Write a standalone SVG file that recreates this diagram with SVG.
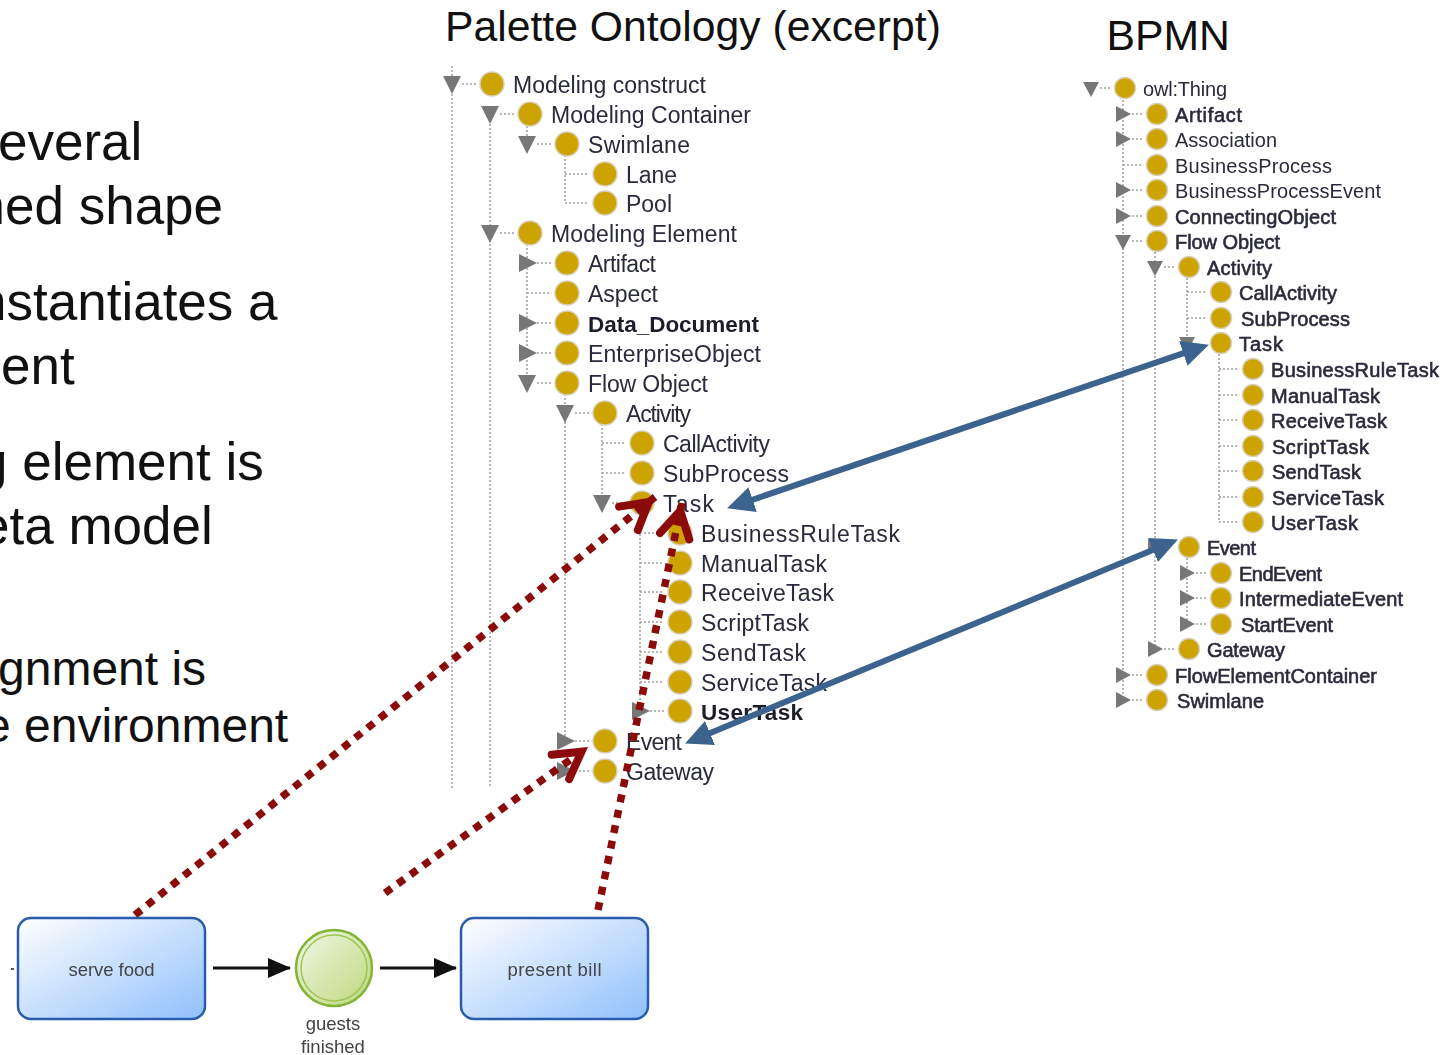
<svg xmlns="http://www.w3.org/2000/svg" width="1455" height="1055" viewBox="0 0 1455 1055">
<style>
text{font-family:"Liberation Sans",Arial,sans-serif}
.big{font-size:53px;fill:#111}
.big2{font-size:48px;fill:#111}
.title{font-size:42.700px;fill:#111}
.l{font-size:23px;fill:#2a2a3c}
.r{font-size:20px;fill:#2a2a3c}
.b{stroke:#2a2a3c;stroke-width:.6}
.db{font-weight:bold;font-size:22.500px;fill:#1c1c2a}
.c{fill:#cca300;stroke:#d8d0b8;stroke-width:1.500}
.tri{fill:#777}
.dot{fill:none;stroke:#a0a0a0;stroke-width:1.500;stroke-dasharray:2 2}
.task{stroke:#2a5cab;stroke-width:2.500;fill:url(#tg)}
.nl{font-size:18.500px;fill:#444;text-anchor:middle}
.red{fill:none;stroke:#8b0a0a;stroke-width:7.500;stroke-dasharray:8 7.700}
.blue{fill:none;stroke:#3c628e;stroke-width:6}
.blk{fill:none;stroke:#111;stroke-width:3}
.soft{filter:url(#soft)}
</style>
<defs>
<filter id="soft" x="-2%" y="-2%" width="104%" height="104%"><feGaussianBlur stdDeviation="0.450"/></filter>
<linearGradient id="tg" x1="0" y1="0" x2="1" y2="1"><stop offset="0" stop-color="#fff"/><stop offset="1" stop-color="#90c0fb"/></linearGradient>
<linearGradient id="eg" x1="0" y1="0" x2="1" y2="1"><stop offset="0" stop-color="#f2f7e6"/><stop offset="1" stop-color="#bcd87c"/></linearGradient>
<marker id="bh" markerUnits="userSpaceOnUse" markerWidth="28" markerHeight="28" refX="16" refY="13" orient="auto-start-reverse" viewBox="0 0 28 26"><path d="M0 0L27 13L0 26z" fill="#3c628e"/></marker>
<marker id="rh" markerUnits="userSpaceOnUse" markerWidth="46" markerHeight="44" refX="42" refY="20" orient="auto" viewBox="0 0 46 40"><path d="M8 5L34 20L8 35" fill="none" stroke="#8b0a0a" stroke-width="8" stroke-linecap="round"/></marker>
<marker id="kh" markerUnits="userSpaceOnUse" markerWidth="24" markerHeight="20" refX="22" refY="10" orient="auto" viewBox="0 0 24 20"><path d="M0 0L23 10L0 20z" fill="#111"/></marker>
</defs>
<rect width="1455" height="1055" fill="#fff"/>
<g id="side-text">
<text class="big" x="-2" y="160">everal</text>
<text class="big" x="-24.500" y="224">ned shape</text>
<text class="big" x="-23" y="320">nstantiates a</text>
<text class="big" x="1" y="384">ent</text>
<text class="big" x="-22" y="480">g element is</text>
<text class="big" x="-20" y="544">eta model</text>
<text class="big2" x="-2" y="685">gnment is</text>
<text class="big2" x="-16" y="742">e environment</text>
</g>
<g id="titles">
<text class="title" x="445" y="41">Palette Ontology (excerpt)</text>
<text class="title" x="1106.500" y="50">BPMN</text>
</g>
<g id="tree-lines" class="soft">
<path class="dot" d="M452 66V788M490 124V788M527 126V136M565 155V203H587M565 174H587M527 244V383M527 293H550M565 394V741M602 424V503M602 443H625M602 473H625M640 514V711M640 533H662M640 563H662M640 592H662M640 622H662M640 652H662M640 682H662"/>
<path class="dot" d="M462 84H478M500 114H516M537 144H553M500 233H516M537 263H553M537 323H553M537 353H553M537 383H553M575 413H591M612 503H628M650 711H666M575 741H591M575 771H591"/>
<path class="dot" d="M1123 100V700M1123 165H1143M1155 252V649M1187 278V340M1187 292H1207M1187 318H1207M1219 354V522M1219 369H1239M1219 395H1239M1219 420H1239M1219 446H1239M1219 471H1239M1219 497H1239M1219 522H1239M1187 558V624"/>
<path class="dot" d="M1100 88H1111M1132 114H1143M1132 139H1143M1132 190H1143M1132 216H1143M1132 241H1143M1164 267H1175M1196 573H1207M1196 598H1207M1196 624H1207M1164 649H1175M1132 675H1143M1132 700H1143"/>
</g>
<g id="palette-tree" class="soft">
<g id="p0"><path class="tri" d="M443 76h18l-9 18z"/><circle class="c" cx="492" cy="84" r="12"/><text class="l" x="513" y="93" textLength="193">Modeling construct</text></g>
<g id="p1"><path class="tri" d="M481 106h18l-9 18z"/><circle class="c" cx="530" cy="114" r="12"/><text class="l" x="551" y="122.500" textLength="200">Modeling Container</text></g>
<g id="p2"><path class="tri" d="M518 136h18l-9 18z"/><circle class="c" cx="567" cy="144" r="12"/><text class="l" x="588" y="152.500" textLength="102">Swimlane</text></g>
<g id="p3"><circle class="c" cx="605" cy="174" r="12"/><text class="l" x="626" y="182.500" textLength="51">Lane</text></g>
<g id="p4"><circle class="c" cx="605" cy="203" r="12"/><text class="l" x="626" y="212" textLength="46">Pool</text></g>
<g id="p5"><path class="tri" d="M481 225h18l-9 18z"/><circle class="c" cx="530" cy="233" r="12"/><text class="l" x="551" y="242" textLength="186">Modeling Element</text></g>
<g id="p6"><path class="tri" d="M519 254l18 9l-18 9z"/><circle class="c" cx="567" cy="263" r="12"/><text class="l" x="588" y="272" textLength="68">Artifact</text></g>
<g id="p7"><circle class="c" cx="567" cy="293" r="12"/><text class="l" x="588" y="302" textLength="70">Aspect</text></g>
<g id="p8"><path class="tri" d="M519 314l18 9l-18 9z"/><circle class="c" cx="567" cy="323" r="12"/><text class="db" x="588" y="332" textLength="171">Data_Document</text></g>
<g id="p9"><path class="tri" d="M519 344l18 9l-18 9z"/><circle class="c" cx="567" cy="353" r="12"/><text class="l" x="588" y="362" textLength="173">EnterpriseObject</text></g>
<g id="p10"><path class="tri" d="M518 375h18l-9 18z"/><circle class="c" cx="567" cy="383" r="12"/><text class="l" x="588" y="392" textLength="120">Flow Object</text></g>
<g id="p11"><path class="tri" d="M556 405h18l-9 18z"/><circle class="c" cx="605" cy="413" r="12"/><text class="l" x="626" y="422" textLength="65">Activity</text></g>
<g id="p12"><circle class="c" cx="642" cy="443" r="12"/><text class="l" x="663" y="452" textLength="107">CallActivity</text></g>
<g id="p13"><circle class="c" cx="642" cy="473" r="12"/><text class="l" x="663" y="482" textLength="126">SubProcess</text></g>
<g id="p14"><path class="tri" d="M593 495h18l-9 18z"/><circle class="c" cx="642" cy="503" r="12"/><text class="l" x="663" y="512" textLength="51">Task</text></g>
<g id="p15"><circle class="c" cx="680" cy="533" r="12"/><text class="l" x="701" y="542" textLength="199">BusinessRuleTask</text></g>
<g id="p16"><circle class="c" cx="680" cy="563" r="12"/><text class="l" x="701" y="572" textLength="126">ManualTask</text></g>
<g id="p17"><circle class="c" cx="680" cy="592" r="12"/><text class="l" x="701" y="601" textLength="133">ReceiveTask</text></g>
<g id="p18"><circle class="c" cx="680" cy="622" r="12"/><text class="l" x="701" y="631" textLength="108">ScriptTask</text></g>
<g id="p19"><circle class="c" cx="680" cy="652" r="12"/><text class="l" x="701" y="661" textLength="105">SendTask</text></g>
<g id="p20"><circle class="c" cx="680" cy="682" r="12"/><text class="l" x="701" y="691" textLength="126">ServiceTask</text></g>
<g id="p21"><path class="tri" d="M632 702l18 9l-18 9z"/><circle class="c" cx="680" cy="711" r="12"/><text class="db" x="701" y="720" textLength="102">UserTask</text></g>
<g id="p22"><path class="tri" d="M557 732l18 9l-18 9z"/><circle class="c" cx="605" cy="741" r="12"/><text class="l" x="626" y="750" textLength="56">Event</text></g>
<g id="p23"><path class="tri" d="M557 762l18 9l-18 9z"/><circle class="c" cx="605" cy="771" r="12"/><text class="l" x="626" y="780" textLength="88">Gateway</text></g>
</g>
<g id="bpmn-tree" class="soft">
<g id="b0"><path class="tri" d="M1083 82h16l-8 15z"/><circle class="c" cx="1125" cy="88" r="10.500"/><text class="r" x="1143" y="96" textLength="84">owl:Thing</text></g>
<g id="b1"><path class="tri" d="M1116 106l15 8l-15 8z"/><circle class="c" cx="1157" cy="114" r="10.500"/><text class="r b" x="1175" y="122" textLength="67">Artifact</text></g>
<g id="b2"><path class="tri" d="M1116 131l15 8l-15 8z"/><circle class="c" cx="1157" cy="139" r="10.500"/><text class="r" x="1175" y="147" textLength="102">Association</text></g>
<g id="b3"><circle class="c" cx="1157" cy="165" r="10.500"/><text class="r" x="1175" y="173" textLength="157">BusinessProcess</text></g>
<g id="b4"><path class="tri" d="M1116 182l15 8l-15 8z"/><circle class="c" cx="1157" cy="190" r="10.500"/><text class="r" x="1175" y="198" textLength="206">BusinessProcessEvent</text></g>
<g id="b5"><path class="tri" d="M1116 208l15 8l-15 8z"/><circle class="c" cx="1157" cy="216" r="10.500"/><text class="r b" x="1175" y="224" textLength="161">ConnectingObject</text></g>
<g id="b6"><path class="tri" d="M1115 235h16l-8 15z"/><circle class="c" cx="1157" cy="241" r="10.500"/><text class="r b" x="1175" y="249" textLength="105">Flow Object</text></g>
<g id="b7"><path class="tri" d="M1147 261h16l-8 15z"/><circle class="c" cx="1189" cy="267" r="10.500"/><text class="r b" x="1207" y="275" textLength="65">Activity</text></g>
<g id="b8"><circle class="c" cx="1221" cy="292" r="10.500"/><text class="r b" x="1239" y="300" textLength="98">CallActivity</text></g>
<g id="b9"><circle class="c" cx="1221" cy="318" r="10.500"/><text class="r b" x="1241" y="326" textLength="109">SubProcess</text></g>
<g id="b10"><path class="tri" d="M1179 337h16l-8 15z"/><circle class="c" cx="1221" cy="343" r="10.500"/><text class="r b" x="1239" y="351" textLength="44">Task</text></g>
<g id="b11"><circle class="c" cx="1253" cy="369" r="10.500"/><text class="r b" x="1271" y="377" textLength="168">BusinessRuleTask</text></g>
<g id="b12"><circle class="c" cx="1253" cy="395" r="10.500"/><text class="r b" x="1271" y="403" textLength="109">ManualTask</text></g>
<g id="b13"><circle class="c" cx="1253" cy="420" r="10.500"/><text class="r b" x="1271" y="428" textLength="116">ReceiveTask</text></g>
<g id="b14"><circle class="c" cx="1253" cy="446" r="10.500"/><text class="r b" x="1272" y="454" textLength="97">ScriptTask</text></g>
<g id="b15"><circle class="c" cx="1253" cy="471" r="10.500"/><text class="r b" x="1272" y="479" textLength="89">SendTask</text></g>
<g id="b16"><circle class="c" cx="1253" cy="497" r="10.500"/><text class="r b" x="1272" y="505" textLength="112">ServiceTask</text></g>
<g id="b17"><circle class="c" cx="1253" cy="522" r="10.500"/><text class="r b" x="1271" y="530" textLength="87">UserTask</text></g>
<g id="b18"><path class="tri" d="M1148 539l15 8l-15 8z"/><circle class="c" cx="1189" cy="547" r="10.500"/><text class="r b" x="1207" y="555" textLength="49">Event</text></g>
<g id="b19"><path class="tri" d="M1180 565l15 8l-15 8z"/><circle class="c" cx="1221" cy="573" r="10.500"/><text class="r b" x="1239" y="581" textLength="83">EndEvent</text></g>
<g id="b20"><path class="tri" d="M1180 590l15 8l-15 8z"/><circle class="c" cx="1221" cy="598" r="10.500"/><text class="r b" x="1239" y="606" textLength="164">IntermediateEvent</text></g>
<g id="b21"><path class="tri" d="M1180 616l15 8l-15 8z"/><circle class="c" cx="1221" cy="624" r="10.500"/><text class="r b" x="1241" y="632" textLength="92">StartEvent</text></g>
<g id="b22"><path class="tri" d="M1148 641l15 8l-15 8z"/><circle class="c" cx="1189" cy="649" r="10.500"/><text class="r b" x="1207" y="657" textLength="78">Gateway</text></g>
<g id="b23"><path class="tri" d="M1116 667l15 8l-15 8z"/><circle class="c" cx="1157" cy="675" r="10.500"/><text class="r b" x="1175" y="683" textLength="202">FlowElementContainer</text></g>
<g id="b24"><path class="tri" d="M1116 692l15 8l-15 8z"/><circle class="c" cx="1157" cy="700" r="10.500"/><text class="r b" x="1177" y="708" textLength="87">Swimlane</text></g>
</g>
<g id="connectors">
<path class="red" d="M135 915L655 497" marker-end="url(#rh)"/>
<path class="red" d="M385 893L588 747" marker-end="url(#rh)"/>
<path class="red" d="M598 910L680 512L682 503" marker-end="url(#rh)"/>
<path class="blue" d="M737.500 504.800L1198.500 348.200" marker-start="url(#bh)" marker-end="url(#bh)"/>
<path class="blue" d="M695.200 739.200L1167.800 543.800" marker-start="url(#bh)" marker-end="url(#bh)"/>
<path class="blk" d="M213 968H290" marker-end="url(#kh)"/>
<path class="blk" d="M380 968H456" marker-end="url(#kh)"/>
<path class="blk" d="M11 969H14" style="stroke:#555;stroke-width:2"/>
</g>
<g id="serve-food" class="soft"><rect class="task" x="18" y="918" width="187" height="101" rx="13"/><text class="nl" x="111.500" y="976" textLength="86">serve food</text></g>
<g id="guests-finished" class="soft"><circle cx="334" cy="968" r="38" fill="url(#eg)" stroke="#82b535" stroke-width="2.500"/><circle cx="334" cy="968" r="33" fill="none" stroke="#9cc558" stroke-width="1.500"/><text class="nl" x="333" y="1030">guests</text><text class="nl" x="333" y="1053">finished</text></g>
<g id="present-bill" class="soft"><rect class="task" x="461" y="918" width="187" height="101" rx="13"/><text class="nl" x="554.500" y="976" textLength="94">present bill</text></g>
</svg>
